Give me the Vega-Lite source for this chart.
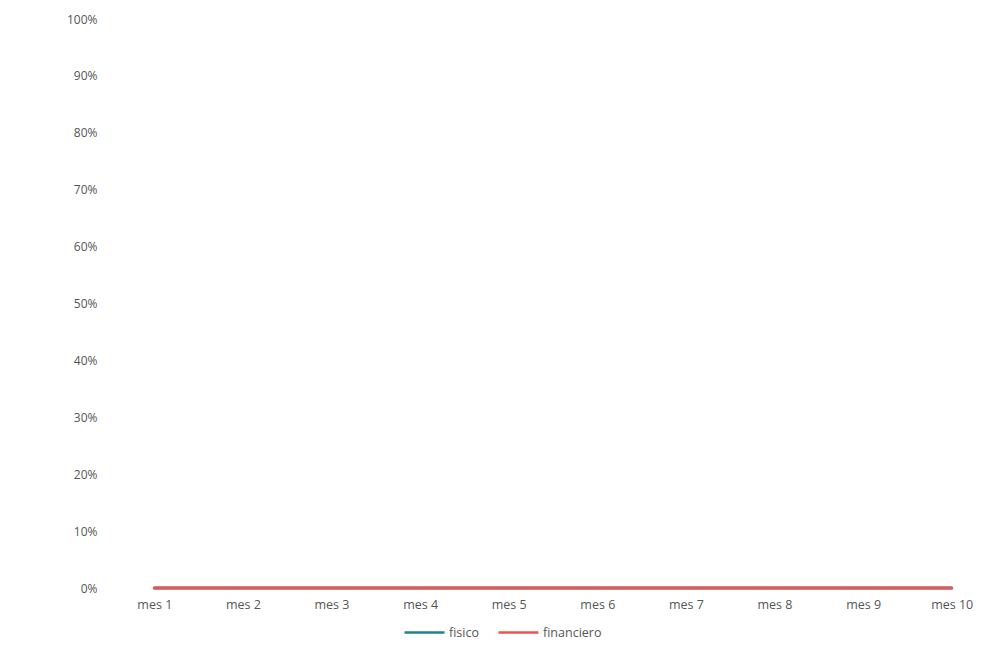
{
  "$schema": "https://vega.github.io/schema/vega-lite/v6.json",
  "width": 886,
  "height": 569,
  "autosize": {"type": "none"},
  "padding": {"left": 110, "top": 19, "right": 4, "bottom": 65},
  "background": "white",
  "data": {
    "values": [
      {"mes": "mes 1", "serie": "fisico", "valor": 0},
      {"mes": "mes 2", "serie": "fisico", "valor": 0},
      {"mes": "mes 3", "serie": "fisico", "valor": 0},
      {"mes": "mes 4", "serie": "fisico", "valor": 0},
      {"mes": "mes 5", "serie": "fisico", "valor": 0},
      {"mes": "mes 6", "serie": "fisico", "valor": 0},
      {"mes": "mes 7", "serie": "fisico", "valor": 0},
      {"mes": "mes 8", "serie": "fisico", "valor": 0},
      {"mes": "mes 9", "serie": "fisico", "valor": 0},
      {"mes": "mes 10", "serie": "fisico", "valor": 0},
      {"mes": "mes 1", "serie": "financiero", "valor": 0},
      {"mes": "mes 2", "serie": "financiero", "valor": 0},
      {"mes": "mes 3", "serie": "financiero", "valor": 0},
      {"mes": "mes 4", "serie": "financiero", "valor": 0},
      {"mes": "mes 5", "serie": "financiero", "valor": 0},
      {"mes": "mes 6", "serie": "financiero", "valor": 0},
      {"mes": "mes 7", "serie": "financiero", "valor": 0},
      {"mes": "mes 8", "serie": "financiero", "valor": 0},
      {"mes": "mes 9", "serie": "financiero", "valor": 0},
      {"mes": "mes 10", "serie": "financiero", "valor": 0}
    ]
  },
  "mark": {"type": "line", "strokeWidth": 3, "strokeCap": "round"},
  "encoding": {
    "x": {
      "field": "mes",
      "type": "ordinal",
      "sort": null,
      "scale": {"type": "point", "padding": 0.5},
      "axis": {
        "title": null,
        "labelAngle": 0,
        "domain": false,
        "ticks": false,
        "grid": false,
        "labelPadding": 10,
        "labelFont": "Open Sans",
        "labelFontSize": 12.5,
        "labelColor": "#555555"
      }
    },
    "y": {
      "field": "valor",
      "type": "quantitative",
      "scale": {"domain": [0, 1]},
      "axis": {
        "title": null,
        "format": ".0%",
        "values": [0, 0.1, 0.2, 0.3, 0.4, 0.5, 0.6, 0.7, 0.8, 0.9, 1],
        "domain": false,
        "ticks": false,
        "grid": false,
        "labelPadding": 13,
        "labelFont": "Open Sans",
        "labelFontSize": 12,
        "labelColor": "#555555"
      }
    },
    "color": {
      "field": "serie",
      "type": "nominal",
      "sort": ["fisico", "financiero"],
      "scale": {"domain": ["fisico", "financiero"], "range": ["#1f8090", "#ef5350"]},
      "legend": {
        "title": null,
        "orient": "none",
        "direction": "horizontal",
        "legendX": 293,
        "legendY": 592,
        "symbolType": "stroke",
        "symbolSize": 1600,
        "symbolStrokeWidth": 2.5,
        "labelFont": "Open Sans",
        "labelFontSize": 12.5,
        "labelColor": "#555555",
        "labelOffset": 3,
        "columnPadding": 14
      }
    },
    "order": {"field": "serie", "sort": "descending"}
  },
  "config": {"view": {"stroke": null}}
}
